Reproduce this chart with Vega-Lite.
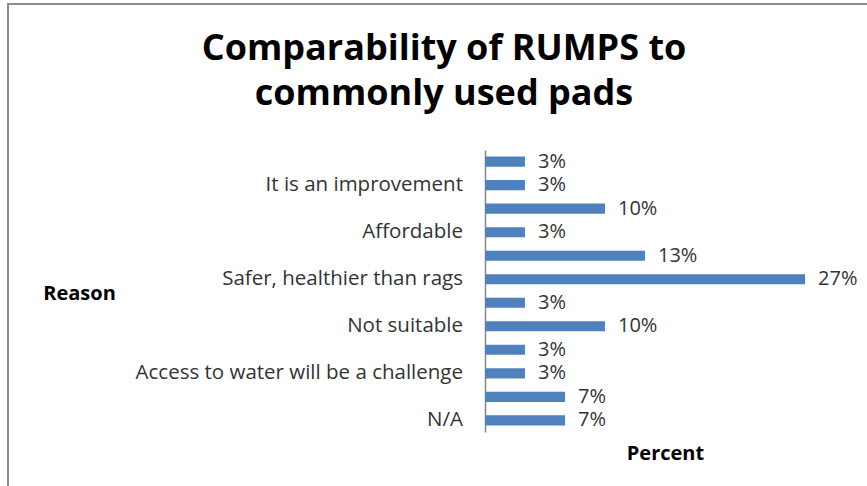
{
  "$schema": "https://vega.github.io/schema/vega-lite/v6.json",
  "autosize": "none",
  "padding": {"left": 8, "top": 4, "right": 0, "bottom": 0},
  "width": 872,
  "height": 492,
  "background": "white",
  "config": {
    "font": "Open Sans",
    "view": {"stroke": "#8c8c8c", "strokeWidth": 2}
  },
  "title": {
    "text": ["Comparability of RUMPS to", "commonly used pads"],
    "font": "Open Sans",
    "fontSize": 36,
    "fontWeight": "bold",
    "color": "#000000",
    "anchor": "middle",
    "frame": "group",
    "baseline": "top",
    "lineHeight": 45,
    "dy": 113
  },
  "data": {
    "values": [
      {"row": 1, "reason": "", "share": 0.0333},
      {"row": 2, "reason": "It is an improvement ", "share": 0.0333},
      {"row": 3, "reason": "", "share": 0.1},
      {"row": 4, "reason": "Affordable", "share": 0.0333},
      {"row": 5, "reason": "", "share": 0.1333},
      {"row": 6, "reason": "Safer, healthier than rags", "share": 0.2667},
      {"row": 7, "reason": "", "share": 0.0333},
      {"row": 8, "reason": "Not suitable", "share": 0.1},
      {"row": 9, "reason": "", "share": 0.0333},
      {"row": 10, "reason": "Access to water will be a challenge", "share": 0.0333},
      {"row": 11, "reason": "", "share": 0.0667},
      {"row": 12, "reason": "N/A", "share": 0.0667}
    ]
  },
  "encoding": {
    "y": {
      "field": "row",
      "type": "ordinal",
      "sort": "ascending",
      "scale": {"range": [146, 428], "paddingInner": 0.57, "paddingOuter": 0.28},
      "axis": {
        "orient": "left",
        "offset": -477,
        "labels": false,
        "ticks": false,
        "grid": false,
        "domainColor": "#868686",
        "domainWidth": 1.5,
        "title": "Reason",
        "titleAngle": 0,
        "titleFont": "Open Sans",
        "titleFontSize": 20,
        "titleFontWeight": "bold",
        "titleColor": "#000000",
        "titleAlign": "center",
        "titleBaseline": "middle",
        "titleX": -406,
        "titleY": 289
      }
    }
  },
  "layer": [
    {
      "mark": {"type": "bar", "color": "#4F81BD"},
      "encoding": {
        "x": {
          "field": "share",
          "type": "quantitative",
          "scale": {"domain": [0, 0.3], "range": [477, 837], "nice": false, "zero": true},
          "axis": {
            "orient": "bottom",
            "offset": -62,
            "labels": false,
            "ticks": false,
            "grid": false,
            "domain": false,
            "title": "Percent",
            "titleFont": "Open Sans",
            "titleFontSize": 20,
            "titleFontWeight": "bold",
            "titleColor": "#000000",
            "titleAlign": "center",
            "titleBaseline": "middle",
            "titleX": 657,
            "titleY": 19
          }
        }
      }
    },
    {
      "mark": {"type": "text", "align": "left", "baseline": "middle", "dx": 13, "fontSize": 20, "color": "#333333"},
      "encoding": {
        "x": {"field": "share", "type": "quantitative"},
        "text": {"field": "share", "type": "quantitative", "format": ".0%"}
      }
    },
    {
      "mark": {"type": "text", "align": "right", "baseline": "middle", "dx": -22, "fontSize": 20.5, "color": "#333333"},
      "encoding": {
        "x": {"datum": 0, "type": "quantitative"},
        "text": {"field": "reason", "type": "nominal"}
      }
    }
  ]
}
